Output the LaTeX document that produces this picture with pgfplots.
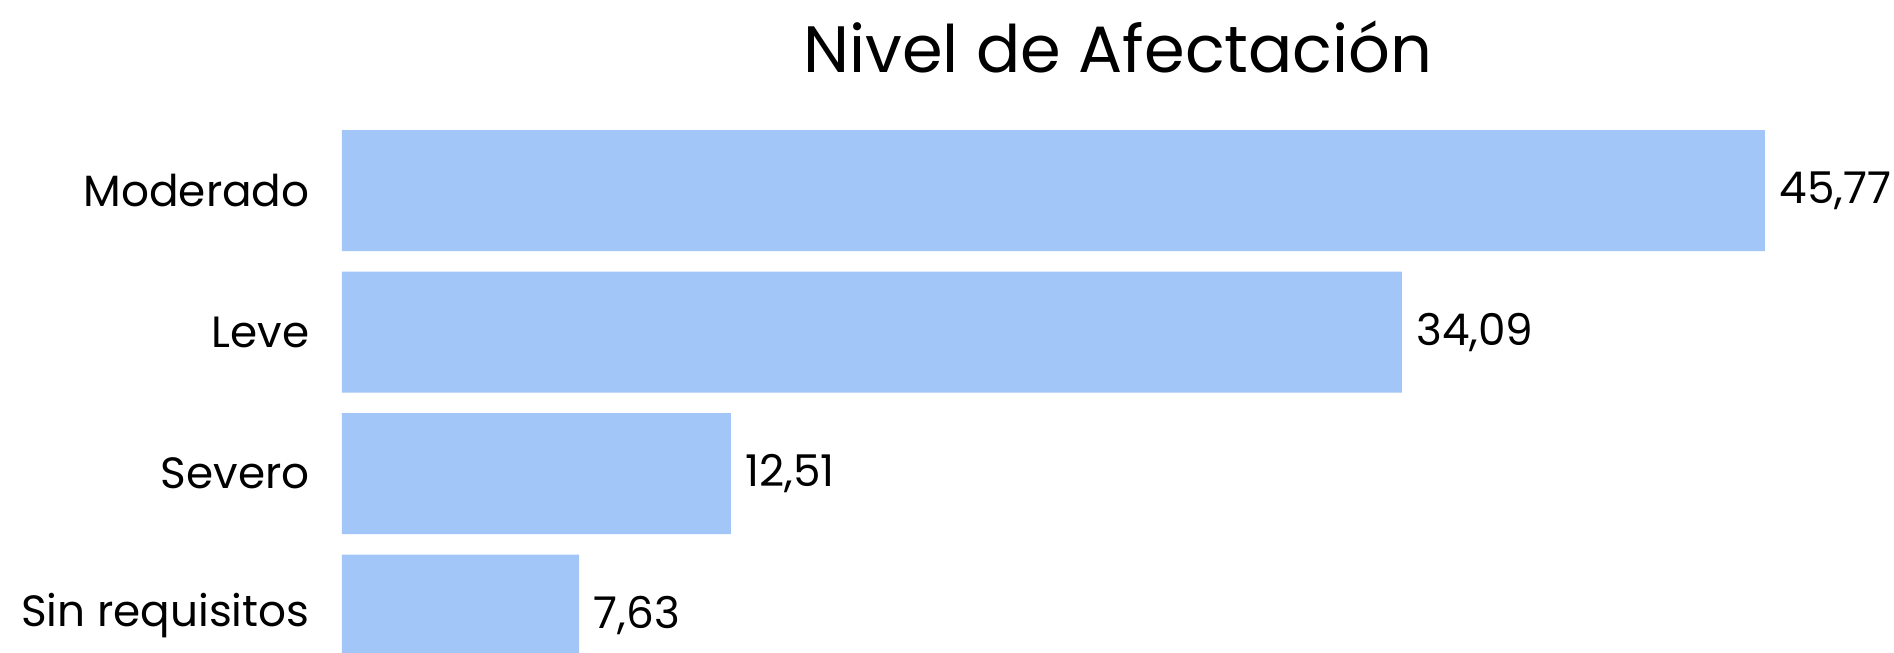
\documentclass[border=0pt]{standalone}
\usepackage{fontspec}
\setmainfont{Poppins}
\usepackage{pgfplots}
\pgfplotsset{compat=1.18}
\definecolor{barblue}{HTML}{A1C6F7}
\begin{document}
\begin{tikzpicture}
\begin{axis}[
  at={(0,0)}, anchor=south west,
  scale only axis,
  width=620.8pt, height=218.5pt,
  xbar, bar width=48.4pt,
  xmin=0, xmax=49.92,
  ymin=-0.26, ymax=3.6,
  ytick={0,1,2,3},
  yticklabels={Sin requisitos,Severo,Leve,Moderado},
  xtick=\empty,
  major tick length=0pt,
  axis line style={draw=none},
  yticklabel style={font=\fontsize{17.5}{21}\selectfont, anchor=east, inner sep=0pt, xshift=-12.8pt},
  nodes near coords,
  nodes near coords style={font=\fontsize{17.5}{21}\selectfont, anchor=west, inner sep=0pt, xshift=5.6pt,
    /pgf/number format/.cd, fixed, fixed zerofill, precision=2, use comma, assume math mode=true},
]
\addplot[fill=barblue, draw=none] coordinates {
  (7.63,0) (12.51,1) (34.09,2) (45.77,3)
};
\end{axis}
\node[anchor=base, inner sep=0pt] at (310.4pt,231.8pt) {\fontsize{26.2}{30}\selectfont Nivel de Afectación};
\pgfresetboundingbox
\path (-136.8pt,0) rectangle (620.8pt,260.8pt);
\end{tikzpicture}
\end{document}
